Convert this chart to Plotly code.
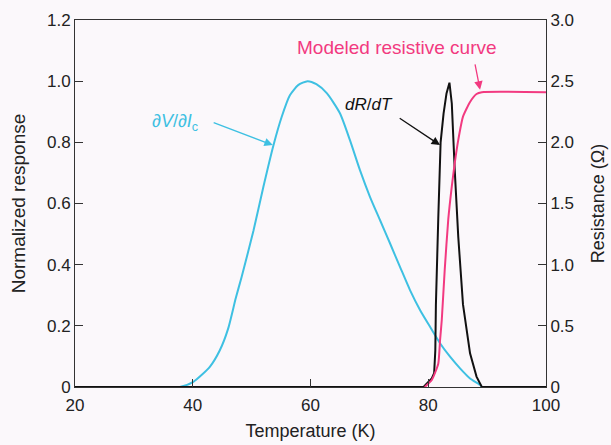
import plotly.graph_objects as go

# Cyan: dV/dIc (normalized response)
t_dv = [20, 37.8, 40.1, 42.9, 44.6, 46.0, 47.3, 48.3, 50.3, 52.0, 53.7, 55.1, 56.5, 57.9, 59.5,
        61.0, 62.8, 65.0, 66.7, 68.4, 70.1, 71.8, 73.5, 75.2, 76.9, 78.6, 80.3, 82.0,
        83.7, 85.4, 87.1, 88.8, 89.1]
v_dv = [0, 0, 0.017, 0.066, 0.12, 0.19, 0.29, 0.36, 0.51, 0.655, 0.79, 0.883, 0.954, 0.987, 1.0,
        0.99, 0.96, 0.895, 0.807, 0.709, 0.622, 0.546, 0.47, 0.393, 0.317, 0.252, 0.197, 0.143,
        0.099, 0.061, 0.028, 0.007, 0.0]

# Black: dR/dT (normalized response)
t_drdt = [20, 79.2, 80.6, 81.0, 81.2, 81.3, 81.7, 82.1, 82.6, 83.1, 83.6, 84.0, 84.5, 85.1,
          85.9, 87.1, 88.2, 89.1, 100]
v_drdt = [0, 0, 0.028, 0.045, 0.12, 0.27, 0.55, 0.80, 0.894, 0.96, 0.995, 0.927, 0.709, 0.49,
          0.27, 0.11, 0.034, 0, 0]

# Pink: modeled resistive curve (ohm)
t_res = [79.4, 80.6, 81.7, 82.0, 82.3, 82.8, 83.4, 84.0, 84.5, 85.1, 85.9, 87.1, 88.2, 89.1, 100]
r_res = [0, 0.057, 0.19, 0.38, 0.55, 0.96, 1.37, 1.64, 1.83, 2.02, 2.21, 2.33, 2.395, 2.41, 2.41]

x_ticks = [20, 40, 60, 80, 100]
y1_ticks = [0, 0.2, 0.4, 0.6, 0.8, 1.0, 1.2]
y1_labels = ["0", "0.2", "0.4", "0.6", "0.8", "1.0", "1.2"]
y2_ticks = [0, 0.5, 1.0, 1.5, 2.0, 2.5, 3.0]
y2_labels = ["0", "0.5", "1.0", "1.5", "2.0", "2.5", "3.0"]

CYAN = "#3ec0e2"
PINK = "#f23a80"
BLACK = "#111111"
BG = "#fbf8fb"
FONT = "Liberation Sans, Arial, sans-serif"

fig = go.Figure()
fig.add_trace(go.Scatter(x=t_dv, y=v_dv, mode="lines", line=dict(color=CYAN, width=2, shape="spline", smoothing=0.6), yaxis="y"))
fig.add_trace(go.Scatter(x=t_res, y=r_res, mode="lines", line=dict(color=PINK, width=2, shape="spline", smoothing=0.5), yaxis="y2"))
fig.add_trace(go.Scatter(x=t_drdt, y=v_drdt, mode="lines", line=dict(color=BLACK, width=2), yaxis="y"))

ann = []
# arrows (empty text)
ann.append(dict(x=88.8, y=2.43, xref="x", yref="y2", ax=87.9, ay=2.65, axref="x", ayref="y2",
                text="", showarrow=True, arrowhead=2, arrowsize=1.3, arrowwidth=1.3, arrowcolor=PINK))
ann.append(dict(x=82.0, y=0.791, xref="x", yref="y", ax=74.9, ay=0.882, axref="x", ayref="y",
                text="", showarrow=True, arrowhead=2, arrowsize=1.3, arrowwidth=1.3, arrowcolor=BLACK))
ann.append(dict(x=53.6, y=0.791, xref="x", yref="y", ax=43.3, ay=0.866, axref="x", ayref="y",
                text="", showarrow=True, arrowhead=2, arrowsize=1.3, arrowwidth=1.3, arrowcolor=CYAN))
# labels
ann.append(dict(x=74.7, y=1.111, xref="x", yref="y", text="Modeled resistive curve", showarrow=False,
                font=dict(family=FONT, size=19, color=PINK)))
ann.append(dict(x=69.9, y=0.925, xref="x", yref="y", text="<i>dR</i>/<i>dT</i>", showarrow=False,
                font=dict(family=FONT, size=17, color=BLACK)))
ann.append(dict(x=37.0, y=0.865, xref="x", yref="y", text="∂<i>V</i>/∂<i>I</i><sub>c</sub>", showarrow=False,
                font=dict(family=FONT, size=18, color=CYAN)))

axis_common = dict(showline=True, linecolor="#333", linewidth=1, ticks="inside", ticklen=8,
                   tickcolor="#333", tickwidth=1, showgrid=False, zeroline=False, automargin=False,
                   tickfont=dict(family=FONT, size=17, color="#222"))

fig.update_layout(
    width=611, height=445,
    margin=dict(l=75, r=65, t=20, b=58),
    paper_bgcolor=BG, plot_bgcolor=BG,
    showlegend=False,
    font=dict(family=FONT, color="#222"),
    xaxis=dict(range=[20, 100], tickvals=x_ticks, mirror=True, ticklabelstandoff=3,
               title=dict(text="Temperature (K)", font=dict(family=FONT, size=18), standoff=9),
               **axis_common),
    yaxis=dict(range=[0, 1.2], tickvals=y1_ticks, ticktext=y1_labels,
               title=dict(text="Normalized response", font=dict(family=FONT, size=19), standoff=16),
               **axis_common),
    yaxis2=dict(range=[0, 3.0], tickvals=y2_ticks, ticktext=y2_labels, overlaying="y", side="right",
                title=dict(text="Resistance (Ω)", font=dict(family=FONT, size=18), standoff=18),
                **axis_common),
    annotations=ann,
)

fig.write_html("out.html")
